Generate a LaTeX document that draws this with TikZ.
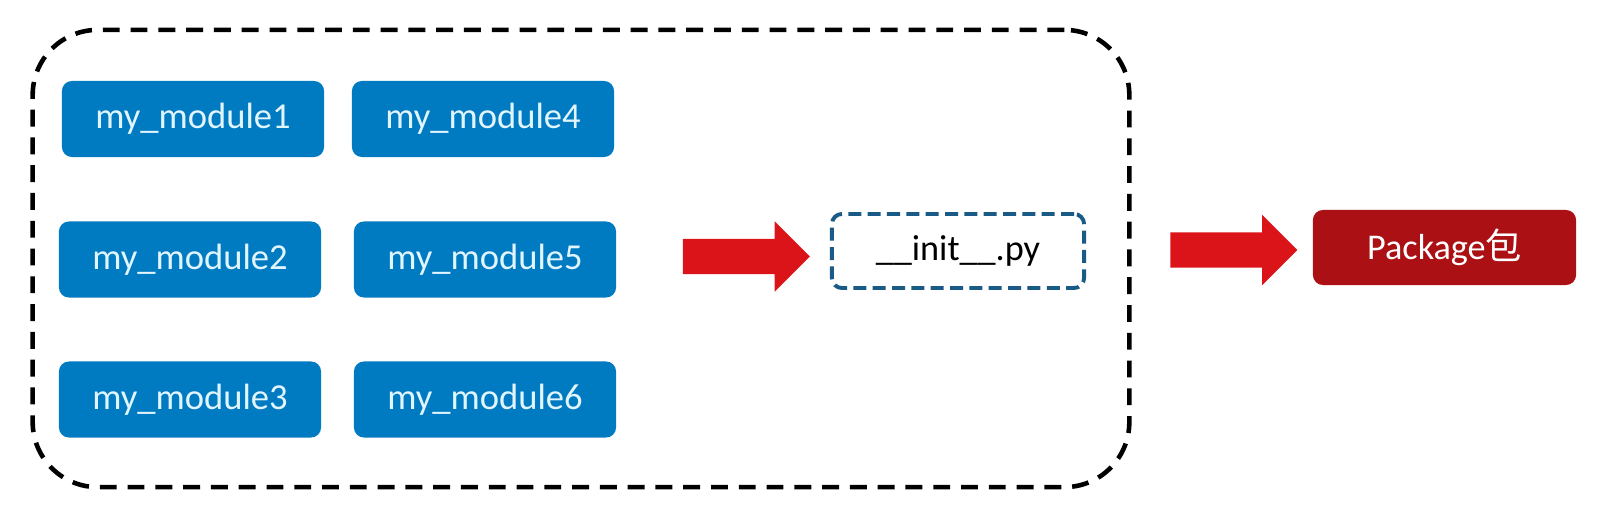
\documentclass[tikz,border=0pt]{standalone}
\usepackage{fontspec}
\setmainfont{Carlito}
\newfontfamily\cjk{Noto Sans CJK SC}
\usetikzlibrary{shapes.arrows}
\definecolor{modblue}{RGB}{0,122,192}
\definecolor{modtext}{RGB}{225,245,255}
\definecolor{initblue}{RGB}{25,90,135}
\definecolor{arrred}{RGB}{218,20,24}
\definecolor{pkgred}{RGB}{170,16,20}

\tikzset{
  module/.style={fill=modblue, text=modtext, rounded corners=0.1cm,
    minimum width=2.62cm, minimum height=0.76cm, font=\fontsize{10.4}{12}\selectfont},
  bigarrow/.style={single arrow, fill=arrred, inner xsep=0pt, inner ysep=0.17cm,
    minimum height=1.27cm, single arrow head extend=0.175cm},
}

\begin{document}
\begin{tikzpicture}[x=0.01cm, y=-0.01cm]
\useasboundingbox (0,0) rectangle (1599,506);
\node[draw, line width=1.3pt, dash pattern=on 4.8pt off 3.1pt, rounded corners=0.65cm,
  minimum width=10.96cm, minimum height=4.57cm] (group) at (581,258.5) {};
\node[module] (m1) at (193,119) {my\_module1};
\node[module] (m2) at (190,259.5) {my\_module2};
\node[module] (m3) at (190,399.5) {my\_module3};
\node[module] (m4) at (483,119) {my\_module4};
\node[module] (m5) at (485,259.5) {my\_module5};
\node[module] (m6) at (485,399.5) {my\_module6};
\node[bigarrow] (a1) at (737.5,256.5) {};
\node[draw=initblue, line width=1.1pt, dash pattern=on 3.7pt off 1.8pt, rounded corners=0.1cm,
  minimum width=2.52cm, minimum height=0.74cm, font=\fontsize{10.3}{12}\selectfont] (init) at (958,251) {\_\_init\_\_.py};
\node[bigarrow] (a2) at (1225,250) {};
\node[fill=pkgred, text=white, rounded corners=0.1cm, minimum width=2.63cm, minimum height=0.75cm,
  font=\fontsize{10.3}{12}\selectfont] (pkg) at (1444.5,247.5) {Package{\cjk 包}};
\end{tikzpicture}
\end{document}
